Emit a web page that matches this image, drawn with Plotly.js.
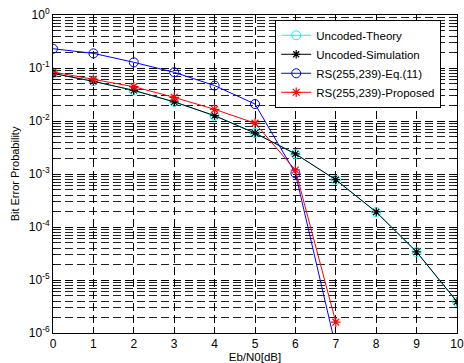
<!DOCTYPE html>
<html><head><meta charset="utf-8">
<script src="https://cdn.plot.ly/plotly-3.0.1.min.js"></script>
<style>html,body{margin:0;padding:0;background:#fff;}</style>
</head><body>
<div id="chart" style="width:464px;height:363px;"></div>
<script>
const ebn0 = [0,1,2,3,4,5,6,7,8,9,10];
const uncodedTheory = [0.0786,0.0563,0.0375,0.0229,0.0125,0.00595,0.00239,0.000773,0.000191,3.36e-5,3.87e-6];
const uncodedSim = [0.0790,0.0560,0.0378,0.0230,0.0126,0.00590,0.00240,0.000780,0.000192,3.4e-5,3.9e-6];
const rsEbn0 = [0,1,2,3,4,5,6,7];
const rsEq11 = [0.231,0.189,0.128,0.083,0.0466,0.0209,0.00103,5.4e-7];
const rsProposed = [0.084,0.061,0.0444,0.0279,0.0166,0.0091,0.00119,1.6e-6];
const yTickVals = [1e-6,1e-5,1e-4,1e-3,1e-2,1e-1,1];
const yTickText = ['10<sup>-6</sup>','10<sup>-5</sup>','10<sup>-4</sup>','10<sup>-3</sup>','10<sup>-2</sup>','10<sup>-1</sup>','10<sup>0</sup>'];

// minor log grid positions (2..9 within each decade)
const yMinorVals = [];
for (let e = -6; e < 0; e++) {
  for (let m = 2; m <= 9; m++) yMinorVals.push(m * Math.pow(10, e));
}

const traces = [
  {x: ebn0, y: uncodedTheory, name: 'Uncoded-Theory', mode: 'lines+markers',
   line: {color: '#00ffff', width: 1}, marker: {symbol: 'circle-open', size: 9, color: '#00ffff', line: {width: 1}}},
  {x: ebn0, y: uncodedSim, name: 'Uncoded-Simulation', mode: 'lines+markers',
   line: {color: '#000000', width: 1}, marker: {symbol: 'asterisk-open', size: 7, color: '#000000', line: {width: 1.2, color: '#000000'}}},
  {x: rsEbn0, y: rsEq11, name: 'RS(255,239)-Eq.(11)', mode: 'lines+markers',
   line: {color: '#0000ff', width: 1}, marker: {symbol: 'circle-open', size: 9, color: '#0000ff', line: {width: 1}}},
  {x: rsEbn0, y: rsProposed, name: 'RS(255,239)-Proposed', mode: 'lines+markers',
   line: {color: '#ff0000', width: 1}, marker: {symbol: 'asterisk-open', size: 8, color: '#ff0000', line: {width: 1.2, color: '#ff0000'}}}
];

const layout = {
  width: 464, height: 363,
  margin: {l: 53, r: 7, t: 15, b: 30},
  paper_bgcolor: '#fff', plot_bgcolor: '#fff',
  font: {family: 'Liberation Sans, Arial, sans-serif', size: 10, color: '#000'},
  showlegend: true,
  legend: {x: 0.55, y: 0.985, xanchor: 'left', yanchor: 'top', bgcolor: '#fff',
           bordercolor: '#000', borderwidth: 1, font: {size: 11.5}, tracegroupgap: 0},
  xaxis: {range: [0, 10], dtick: 1, tick0: 0, showline: true, linecolor: '#000', linewidth: 1,
          mirror: 'ticks', ticks: 'inside', ticklen: 4, tickcolor: '#000',
          showgrid: true, gridcolor: '#000', griddash: '8px,4px', gridwidth: 1, zeroline: false,
          tickfont: {size: 12},
          title: {text: 'Eb/N0[dB]', font: {size: 11.5}, standoff: 9}},
  yaxis: {type: 'log', range: [-6, 0], tickmode: 'array', tickvals: yTickVals, ticktext: yTickText,
          showline: true, linecolor: '#000', linewidth: 1, mirror: 'ticks',
          ticks: 'inside', ticklen: 4, tickcolor: '#000',
          showgrid: true, gridcolor: '#000', griddash: '8px,4px', gridwidth: 1, zeroline: false,
          minor: {tickmode: 'array', tickvals: yMinorVals, showgrid: true, gridcolor: '#222', griddash: '8px,4px', gridwidth: 1,
                  ticks: 'inside', ticklen: 2, tickcolor: '#000'},
          tickfont: {size: 12},
          title: {text: 'Bit Error Probability', font: {size: 11}, standoff: 6}}
};

Plotly.newPlot('chart', traces, layout, {displayModeBar: false, staticPlot: true});
</script>
</body></html>
